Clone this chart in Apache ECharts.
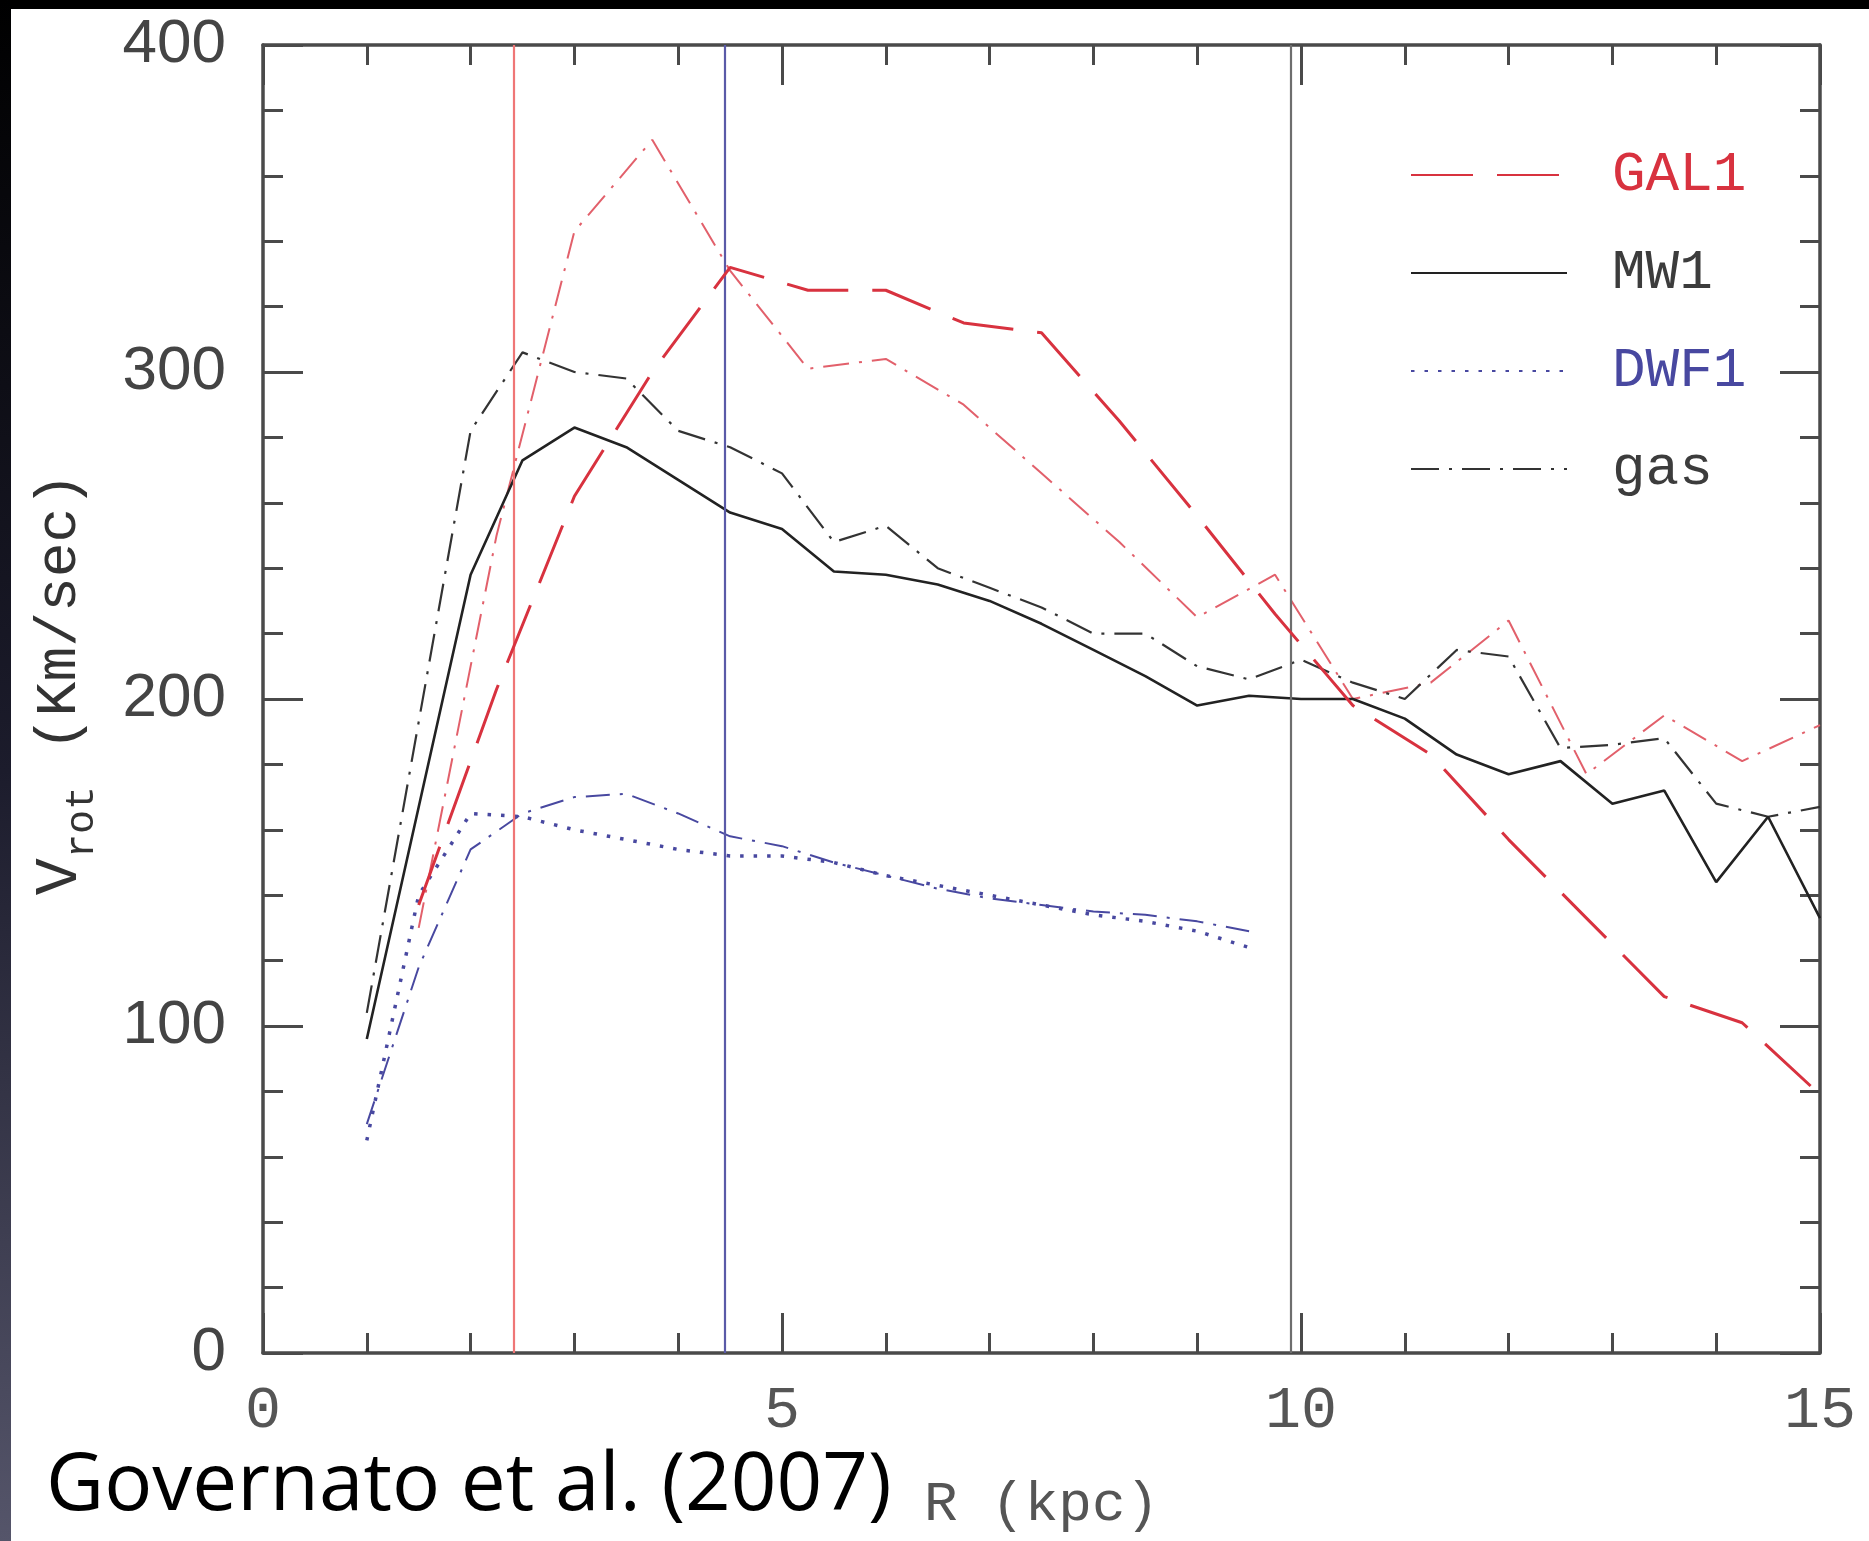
<!DOCTYPE html>
<html><head><meta charset="utf-8">
<script src="https://cdn.jsdelivr.net/npm/echarts@6/dist/echarts.min.js"></script>
<style>html,body{margin:0;padding:0;background:#fff;}#c{width:1869px;height:1541px;}</style>
</head><body><div id="c"></div>
<script>
// ---- data ----
const R_MW1 = [1,1.5,2,2.5,3,3.5,4,4.5,5,5.5,6,6.5,7,7.5,8,8.5,9,9.5,10,10.5,11,11.5,12,12.5,13,13.5,14,14.5,15];
const V_MW1 = [96,167,238,273,283,277,267,257,252,239,238,235,230,223,215,207,198,201,200,200,194,183,177,181,168,172,144,164,133];
const V_MW1_GAS = [104,193,282,306,300,298,282,277,269,248,253,240,234,228,220,220,210,206,212,205,200,215,213,185,186,188,168,164,167];
const R_GAL1 = [1.5,2.25,3,3.75,4.5,5.25,6,6.75,7.5,8.25,9,9.75,10.5,11.25,12,12.75,13.5,14.25,15];
const V_GAL1 = [137,203,262,300,332,325,325,315,312,285,256,226,198,183,157,133,109,101,79];
const V_GAL1_GAS = [130,250,343,371,331,301,304,290,269,248,225,238,200,205,224,177,195,181,192];
const R_DWF1 = [1,1.5,2,2.5,3,3.5,4,4.5,5,5.5,6,6.5,7,7.5,8,8.5,9,9.5];
const V_DWF1 = [65,140,165,164,160,157,154,152,152,150,146,143,140,137,134,132,129,124];
const V_DWF1_GAS = [70,118,154,165,170,171,165,158,155,150,146,142,139,137,135,134,132,129];
const R_MARKERS = [2.42, 4.45, 9.9];
const LEGEND_NAMES = ['GAL1', 'MW1', 'DWF1', 'gas'];
const X_RANGE = [0, 15];
const Y_RANGE = [0, 400];

// ---- styles ----
const RED = '#d8323f', RED_LIGHT = '#e2606b', BLACK = '#222', GRAY = '#3c3c3c', BLUE = '#4848a0';
const MARK_COLORS = ['#ef7676', '#5a5aa8', '#6e6e6e'];
const AXIS_COLOR = '#4a4a4a';
const MONO = '"Liberation Mono", "DejaVu Sans Mono", monospace';

const pairs = (xs, ys) => xs.map((x, i) => [x, ys[i]]);

const chart = echarts.init(document.getElementById('c'), null, {renderer: 'canvas'});

const axisCommon = {
  type: 'value',
  axisLine: {show: true, onZero: false, lineStyle: {color: AXIS_COLOR, width: 3.5}},
  axisTick: {show: true, inside: true, length: 40, lineStyle: {color: AXIS_COLOR, width: 3}},
  minorTick: {show: true, splitNumber: 5, length: 20, lineStyle: {color: AXIS_COLOR, width: 3}},
  splitLine: {show: false},
  minorSplitLine: {show: false}
};

chart.setOption({
  animation: false,
  backgroundColor: '#fff',
  title: {
    text: 'Governato et al. (2007)',
    left: 46, top: 1447, padding: 0,
    textStyle: {fontFamily: '"Open Sans", Lato, sans-serif', fontSize: 80, fontWeight: 'normal', color: '#000'}
  },
  graphic: [
    {type: 'rect', left: 0, top: 0, shape: {width: 1869, height: 9}, style: {fill: '#000'}, silent: true},
    {type: 'rect', left: 0, top: 0, shape: {width: 11, height: 1541},
     style: {fill: new echarts.graphic.LinearGradient(0, 0, 0, 1, [{offset: 0, color: '#000'}, {offset: 0.5, color: '#1c1c2c'}, {offset: 1, color: '#55556a'}])}, silent: true}
  ],
  grid: {left: 263, right: 49, top: 45, bottom: 188, containLabel: false},
  legend: {
    orient: 'vertical', left: 1405, top: 140,
    itemWidth: 156, itemHeight: 2, itemGap: 38,
    selectedMode: false,
    itemStyle: {opacity: 0},
    textStyle: {fontFamily: MONO, fontSize: 56, color: GRAY, lineHeight: 60, padding: [0, 0, 0, 40]},
    data: [
      {name: LEGEND_NAMES[0], textStyle: {color: RED}},
      {name: LEGEND_NAMES[1], textStyle: {color: GRAY}},
      {name: LEGEND_NAMES[2], textStyle: {color: BLUE}},
      {name: LEGEND_NAMES[3], textStyle: {color: GRAY}}
    ]
  },
  xAxis: [
    Object.assign({}, axisCommon, {
      position: 'bottom', min: X_RANGE[0], max: X_RANGE[1], interval: 5,
      axisLabel: {show: true, margin: 28, fontFamily: MONO, fontSize: 60, color: '#555'},
      name: 'R (kpc)', nameLocation: 'middle', nameGap: 124,
      nameTextStyle: {fontFamily: MONO, fontSize: 56, color: '#555'}
    }),
    Object.assign({}, axisCommon, {
      position: 'top', min: X_RANGE[0], max: X_RANGE[1], interval: 5,
      axisLabel: {show: false}
    })
  ],
  yAxis: [
    Object.assign({}, axisCommon, {
      position: 'left', min: Y_RANGE[0], max: Y_RANGE[1], interval: 100,
      axisLabel: {show: true, margin: 37, fontFamily: '"Liberation Sans", Arial, sans-serif', fontSize: 62, color: '#444'},
      name: '{v|V}{s|rot} (Km/sec)', nameLocation: 'middle', nameGap: 203, nameRotate: 90,
      nameTextStyle: {
        fontFamily: MONO, fontSize: 58, color: '#333', lineHeight: 84, verticalAlign: 'middle',
        padding: [0, 0, 0, 30],
        rich: {
          v: {fontFamily: MONO, fontSize: 62, color: '#333', lineHeight: 84},
          s: {fontFamily: MONO, fontSize: 40, color: '#333', lineHeight: 84, verticalAlign: 'bottom'}
        }
      }
    }),
    Object.assign({}, axisCommon, {
      position: 'right', min: Y_RANGE[0], max: Y_RANGE[1], interval: 100,
      axisLabel: {show: false}
    })
  ],
  series: [
    {
      name: 'GAL1 gas', type: 'line', symbol: 'none', data: pairs(R_GAL1, V_GAL1_GAS),
      lineStyle: {color: RED_LIGHT, width: 2, type: [26, 10, 3, 10]}, z: 3
    },
    {
      name: 'DWF1 gas', type: 'line', symbol: 'none', data: pairs(R_DWF1, V_DWF1_GAS),
      lineStyle: {color: BLUE, width: 2, type: [24, 10, 3, 10]}, z: 3
    },
    {
      name: 'gas', type: 'line', symbol: 'none', data: pairs(R_MW1, V_MW1_GAS),
      itemStyle: {color: '#333'},
      lineStyle: {color: '#333', width: 2.2, type: [28, 10, 3, 10]}, z: 3
    },
    {
      name: 'DWF1', type: 'line', symbol: 'none', data: pairs(R_DWF1, V_DWF1),
      itemStyle: {color: BLUE},
      lineStyle: {color: BLUE, width: 3.5, type: [3.5, 10]}, z: 4
    },
    {
      name: 'MW1', type: 'line', symbol: 'none', data: pairs(R_MW1, V_MW1),
      itemStyle: {color: BLACK},
      lineStyle: {color: BLACK, width: 2.6, type: 'solid'}, z: 4,
      markLine: {
        silent: true, symbol: ['none', 'none'], label: {show: false},
        data: R_MARKERS.map((x, i) => ({xAxis: x, lineStyle: {color: MARK_COLORS[i], width: 2.2, type: 'solid'}}))
      }
    },
    {
      name: 'GAL1', type: 'line', symbol: 'none', data: pairs(R_GAL1, V_GAL1),
      itemStyle: {color: RED},
      lineStyle: {color: RED, width: 3, type: [62, 24]}, z: 5
    }
  ]
});
</script></body></html>
